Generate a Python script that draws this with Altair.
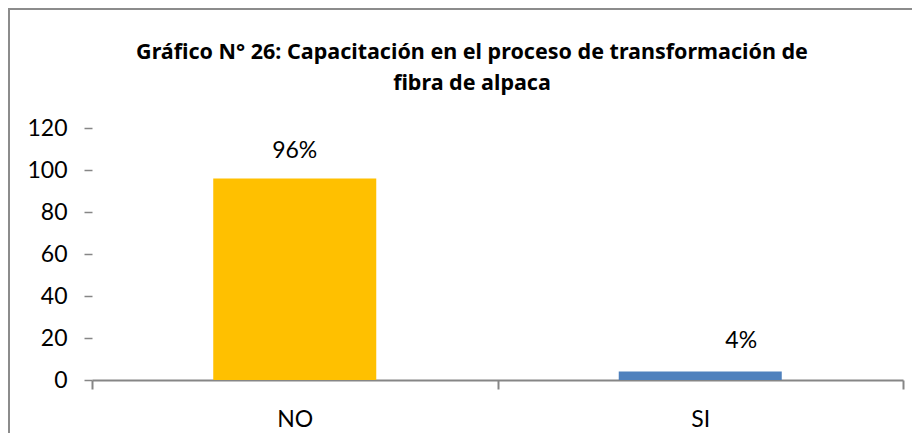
import altair as alt
import pandas as pd

categories = ["NO", "SI"]
values = [96, 4]
labels = ["96%", "4%"]
colors = ["#FFC000", "#4F81BD"]
title_lines = ["Gráfico N° 26: Capacitación en el proceso de transformación de",
               "fibra de alpaca"]

df = pd.DataFrame({"cat": categories, "val": values, "lab": labels, "col": colors})

FONT = "Lato"
TFONT = "Noto Sans"
GRAY = "#868686"

base = alt.Chart(df)

bars = base.mark_bar(width=alt.RelativeBandSize(0.402)).encode(
    x=alt.X("cat:N", sort=categories, title=None,
            scale=alt.Scale(paddingInner=0, paddingOuter=0),
            axis=alt.Axis(labelAngle=0, tickBand="extent", domainColor=GRAY,
                          tickColor=GRAY, tickSize=9, tickWidth=2, domainWidth=2,
                          labelPadding=19)),
    y=alt.Y("val:Q", title=None,
            scale=alt.Scale(domain=[0, 120], nice=False),
            axis=alt.Axis(values=[0, 20, 40, 60, 80, 100, 120], domain=False,
                          grid=False, tickColor=GRAY, tickSize=8, tickWidth=1.5,
                          labelPadding=17)),
    color=alt.Color("col:N", scale=None),
)

text_no = base.transform_filter(alt.datum.cat == "NO").mark_text(
    baseline="bottom", dy=-15, font=FONT, fontSize=23, color="#000000"
).encode(
    x=alt.X("cat:N", sort=categories),
    y="val:Q",
    text="lab:N",
)

text_si = base.transform_filter(alt.datum.cat == "SI").mark_text(
    baseline="bottom", dy=-19, dx=41, font=FONT, fontSize=23, color="#000000"
).encode(
    x=alt.X("cat:N", sort=categories),
    y="val:Q",
    text="lab:N",
)

one = alt.Chart(pd.DataFrame({"a": [0]}))

border = one.mark_rect(fill=None, stroke="#8c8c8c", strokeWidth=2).encode(
    x=alt.value(-83), x2=alt.value(1000),
    y=alt.value(-119), y2=alt.value(600),
)

title = one.mark_text(
    font=TFONT, fontSize=21.5, fontWeight="bold", lineHeight=31,
    align="center", baseline="alphabetic", color="#000000"
).encode(
    x=alt.value(380), y=alt.value(-69),
    text=alt.value(title_lines),
)

chart = alt.layer(border, title, bars, text_no, text_si).properties(
    width=811,
    height=252,
    autosize=alt.AutoSizeParams(type="none"),
    padding={"left": 84, "top": 120, "right": 9, "bottom": 53},
).configure_view(stroke=None).configure_axis(
    labelFont=FONT, labelFontSize=23, labelColor="#000000"
)

chart.save("out.html", embed_options={"renderer": "svg", "actions": False})
